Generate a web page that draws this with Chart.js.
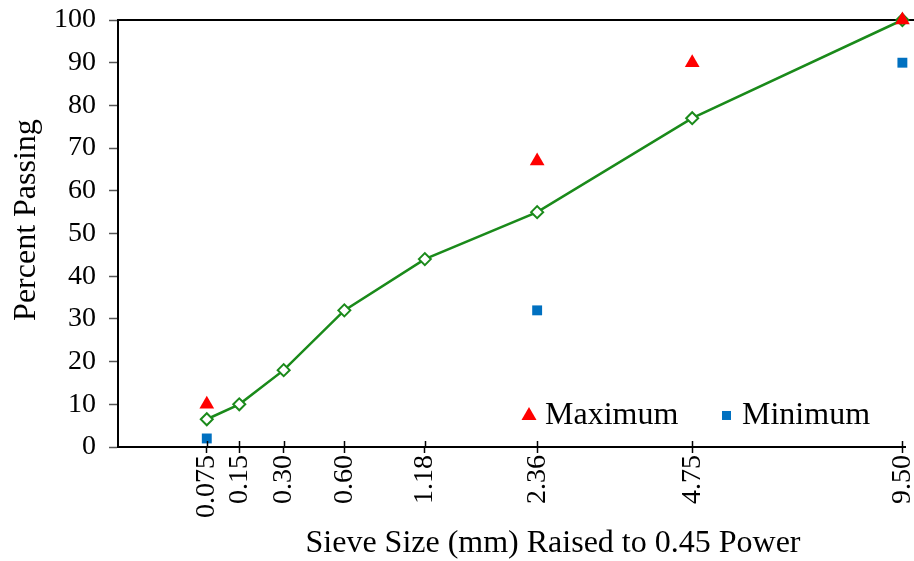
<!DOCTYPE html>
<html>
<head>
<meta charset="utf-8">
<script src="https://cdn.jsdelivr.net/npm/chart.js@4/dist/chart.umd.min.js"></script>
<style>
html,body{margin:0;padding:0;background:#fff;overflow:hidden;}
#wrap{position:relative;width:914px;height:561px;}
</style>
</head>
<body>
<div id="wrap"><canvas id="c" width="914" height="561"></canvas></div>
<script>
// Sieve sizes (mm) and tick labels
const sieveSizes = [0.075, 0.15, 0.30, 0.60, 1.18, 2.36, 4.75, 9.50];
const tickLabels = ["0.075", "0.15", "0.30", "0.60", "1.18", "2.36", "4.75", "9.50"];
// Gradation (percent passing)
const gradation = [6.5, 10, 18, 32, 44, 55, 77, 100];
// Control points
const maxSieves = [0.075, 2.36, 4.75, 9.50];
const maxValues = [10, 67, 90, 100];
const minSieves = [0.075, 2.36, 9.50];
const minValues = [2, 32, 90];
const POWER = 0.45;
const xTitle = 'Sieve Size (mm) Raised to 0.45 Power';
const yTitle = 'Percent Passing';

const pw = s => Math.pow(s, POWER);
const toPts = (xs, ys) => xs.map((s, i) => ({x: pw(s), y: ys[i]}));
const tickPos = sieveSizes.map(pw);

const FONT = "'Liberation Serif', 'Times New Roman', serif";

const decor = {
  id: 'decor',
  beforeDatasetsDraw(chart) {
    const ctx = chart.ctx, ca = chart.chartArea;
    ctx.save();
    ctx.strokeStyle = '#000';
    ctx.lineWidth = 2;
    // top border line
    ctx.beginPath();
    ctx.moveTo(ca.left - 1, ca.top);
    ctx.lineTo(chart.width, ca.top);
    ctx.stroke();
    ctx.restore();
  },
  afterDraw(chart) {
    const ctx = chart.ctx, xs = chart.scales.x, ys = chart.scales.y, ca = chart.chartArea;
    ctx.save();
    ctx.strokeStyle = '#000';
    // inner part of x ticks
    ctx.lineWidth = 1.5;
    tickPos.forEach(v => {
      const px = Math.round(xs.getPixelForValue(v)) + 0.5;
      ctx.beginPath();
      ctx.moveTo(px, ca.bottom - 6);
      ctx.lineTo(px, ca.bottom);
      ctx.stroke();
    });
    // axis titles
    ctx.fillStyle = '#000';
    ctx.font = '32px ' + FONT;
    ctx.textAlign = 'center';
    ctx.textBaseline = 'alphabetic';
    ctx.fillText(xTitle, 553, 552);
    ctx.save();
    ctx.translate(35, 220);
    ctx.rotate(-Math.PI / 2);
    ctx.fillText(yTitle, 0, 0);
    ctx.restore();
    // legend inside plot
    const ly = ys.getPixelForValue(7.5);
    ctx.textAlign = 'left';
    ctx.textBaseline = 'middle';
    ctx.fillStyle = '#FF0000';
    const tx = 529;
    ctx.beginPath();
    ctx.moveTo(tx, ly - 8);
    ctx.lineTo(tx + 7.5, ly + 5);
    ctx.lineTo(tx - 7.5, ly + 5);
    ctx.closePath();
    ctx.fill();
    ctx.fillStyle = '#000';
    ctx.fillText('Maximum', 545, ly + 1);
    ctx.fillStyle = '#0070C0';
    ctx.fillRect(722, ly - 4, 9, 9);
    ctx.fillStyle = '#000';
    ctx.fillText('Minimum', 742, ly + 1);
    ctx.restore();
  }
};

new Chart(document.getElementById('c'), {
  type: 'scatter',
  data: {
    datasets: [
      {
        label: 'Gradation',
        data: toPts(sieveSizes, gradation),
        showLine: true,
        clip: false,
        borderColor: '#1A8A1A',
        borderWidth: 2.5,
        pointStyle: 'rectRot',
        pointRadius: 6,
        pointBorderWidth: 2,
        pointBorderColor: '#1A8A1A',
        pointBackgroundColor: '#FFFFFF',
        order: 3
      },
      {
        label: 'Maximum',
        data: toPts(maxSieves, maxValues),
        showLine: false,
        clip: false,
        pointStyle: 'triangle',
        pointRadius: 8.5,
        pointBorderWidth: 0,
        backgroundColor: '#FF0000',
        borderColor: '#FF0000',
        order: 1
      },
      {
        label: 'Minimum',
        data: toPts(minSieves, minValues),
        showLine: false,
        clip: false,
        pointStyle: 'rect',
        pointRadius: 7,
        pointBorderWidth: 0,
        backgroundColor: '#0070C0',
        borderColor: '#0070C0',
        order: 2
      }
    ]
  },
  options: {
    responsive: false,
    animation: false,
    devicePixelRatio: 1,
    layout: {padding: {left: 0, right: 0, top: 20, bottom: 0}},
    plugins: {
      legend: {display: false},
      tooltip: {enabled: false}
    },
    scales: {
      x: {
        type: 'linear',
        min: 0,
        max: 2.765,
        afterBuildTicks(scale) {
          scale.ticks = tickPos.map(v => ({value: v}));
        },
        afterFit(scale) {
          scale.height = 114;
          scale.paddingLeft = 0;
          scale.paddingRight = 0;
        },
        ticks: {
          autoSkip: false,
          maxRotation: 90,
          minRotation: 90,
          color: '#000',
          font: {family: FONT, size: 28},
          padding: 2,
          callback(value, index) { return tickLabels[index]; }
        },
        grid: {
          display: true,
          drawOnChartArea: false,
          drawTicks: true,
          tickLength: 6,
          tickColor: '#000',
          tickWidth: 1.5
        },
        border: {display: true, color: '#000', width: 2},
        title: {display: false}
      },
      y: {
        min: 0,
        max: 100,
        afterFit(scale) {
          scale.width = 118;
          scale.paddingTop = 0;
          scale.paddingBottom = 0;
        },
        ticks: {
          stepSize: 10,
          color: '#000',
          font: {family: FONT, size: 28},
          padding: 13
        },
        grid: {
          display: true,
          drawOnChartArea: false,
          drawTicks: true,
          tickLength: 9,
          tickColor: '#555',
          tickWidth: 1.5
        },
        border: {display: true, color: '#000', width: 2},
        title: {display: false}
      }
    }
  },
  plugins: [decor]
});
</script>
</body>
</html>
